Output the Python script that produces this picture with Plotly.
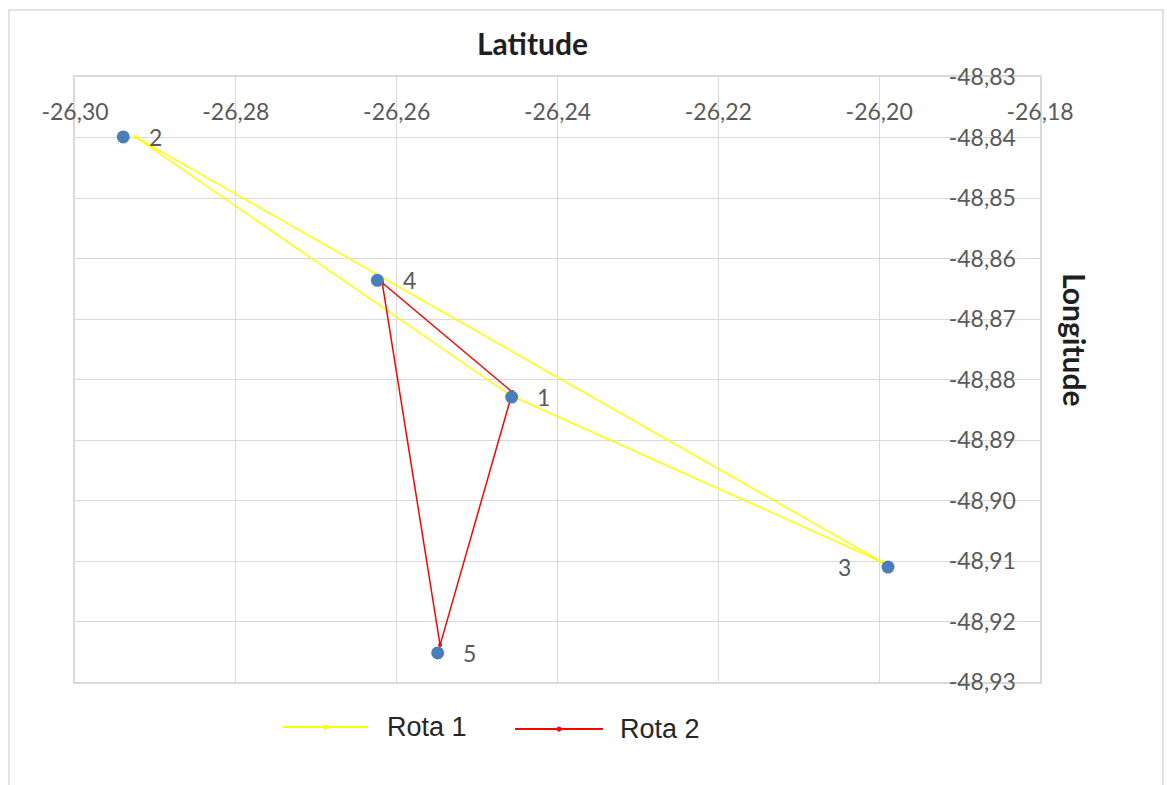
import plotly.graph_objects as go

# Customer / depot locations
point_ids = ["1", "2", "3", "4", "5"]
point_lat = [-26.2457, -26.2940, -26.1989, -26.2624, -26.2549]
point_lon = [-48.8829, -48.8399, -48.9110, -48.8636, -48.9252]

# Route 1: depot 1 -> 2 -> 3 -> back to 1
rota1_lat = [-26.2459, -26.2925, -26.1996, -26.2459]
rota1_lon = [-48.8826, -48.8399, -48.9102, -48.8826]

# Route 2: depot 1 -> 4 -> 5 -> back to 1
rota2_lat = [-26.2456, -26.2618, -26.2546, -26.2456]
rota2_lon = [-48.8821, -48.8640, -48.9239, -48.8821]

x_ticks = [-26.30, -26.28, -26.26, -26.24, -26.22, -26.20, -26.18]
x_ticktext = ["-26,30", "-26,28", "-26,26", "-26,24", "-26,22", "-26,20", "-26,18"]
y_ticks = [-48.83, -48.84, -48.85, -48.86, -48.87, -48.88, -48.89, -48.90, -48.91, -48.92, -48.93]
y_ticktext = ["-48,83", "-48,84", "-48,85", "-48,86", "-48,87", "-48,88", "-48,89",
              "-48,90", "-48,91", "-48,92", "-48,93"]

# Horizontal offset (px) of each point label
label_shift = [32, 32, -44, 32, 32]

YELLOW = "#ffff00"
RED = "#ff0000"
BLUE = "#4a7ebb"
GRID = "#d9d9d9"
TICK_FONT = dict(family="Lato, Open Sans, sans-serif", size=23, color="#595959")
TITLE_FONT = dict(family="Lato, sans-serif", size=30, color="#1f1f1f")

fig = go.Figure()

fig.add_trace(go.Scatter(
    x=rota1_lat, y=rota1_lon, mode="lines+markers", name="Rota 1",
    line=dict(color=YELLOW, width=1.5), marker=dict(color=YELLOW, size=4),
    showlegend=False, hoverinfo="x+y",
))
fig.add_trace(go.Scatter(
    x=rota2_lat, y=rota2_lon, mode="lines+markers", name="Rota 2",
    line=dict(color=RED, width=1.5), marker=dict(color=RED, size=4),
    showlegend=False, hoverinfo="x+y",
))
fig.add_trace(go.Scatter(
    x=point_lat, y=point_lon, mode="markers", name="Pontos",
    marker=dict(color=BLUE, size=13), showlegend=False,
))

annotations = []
for pid, lat, lon, dx in zip(point_ids, point_lat, point_lon, label_shift):
    annotations.append(dict(
        x=lat, y=lon, xref="x", yref="y", text=pid, showarrow=False,
        xshift=dx, font=TICK_FONT,
    ))

# Titles
annotations.append(dict(
    x=0.4746, y=1.056, xref="paper", yref="paper", text="<b>Latitude</b>",
    xanchor="center", yanchor="middle", showarrow=False, font=TITLE_FONT,
))
annotations.append(dict(
    x=1.0363, y=0.5653, xref="paper", yref="paper", text="<b>Longitude</b>",
    xanchor="center", yanchor="middle", showarrow=False, textangle=90, font=TITLE_FONT,
))

# Legend entries
legend_items = [("Rota 1", YELLOW, 0.2155, 0.3036, 0.3212, -0.0744),
                ("Rota 2", RED, 0.4560, 0.5472, 0.5627, -0.0778)]
shapes = []
for name, color, x0, x1, xt, yl in legend_items:
    shapes.append(dict(type="line", xref="paper", yref="paper", x0=x0, x1=x1, y0=yl, y1=yl,
                       line=dict(color=color, width=2)))
    xc = (x0 + x1) / 2
    shapes.append(dict(type="circle", xref="paper", yref="paper",
                       x0=xc - 0.0022, x1=xc + 0.0022, y0=yl - 0.0035, y1=yl + 0.0035,
                       fillcolor=color, line=dict(color=color, width=1)))
    annotations.append(dict(
        x=xt, y=yl, xref="paper", yref="paper", text=name, showarrow=False,
        xanchor="left", yanchor="middle",
        font=dict(family="Liberation Sans, Arial, sans-serif", size=27, color="#262626"),
    ))

# Outer chart frame
shapes.append(dict(type="rect", xref="paper", yref="paper",
                   x0=-0.0684, x1=1.1275, y0=-0.20, y1=1.1107,
                   line=dict(color=GRID, width=1.5), fillcolor="rgba(0,0,0,0)", layer="below"))

fig.update_layout(
    width=1167, height=785,
    margin=dict(l=75, r=127, t=77, b=103),
    paper_bgcolor="white", plot_bgcolor="white",
    showlegend=False,
    annotations=annotations,
    shapes=shapes,
    xaxis=dict(
        range=[-26.30, -26.18], side="top", tickvals=x_ticks, ticktext=x_ticktext,
        ticklabelposition="inside", ticklabeloverflow="allow", ticklabelstandoff=29,
        ticks="", showgrid=True, gridcolor=GRID, gridwidth=1,
        showline=True, linecolor=GRID, linewidth=1.5, mirror=True, zeroline=False,
        tickfont=TICK_FONT, fixedrange=True,
    ),
    yaxis=dict(
        range=[-48.93, -48.83], side="right", tickvals=y_ticks, ticktext=y_ticktext,
        ticklabelposition="inside", ticklabeloverflow="allow", ticklabelstandoff=26,
        ticks="", showgrid=True, gridcolor=GRID, gridwidth=1,
        showline=True, linecolor=GRID, linewidth=1.5, mirror=True, zeroline=False,
        tickfont=TICK_FONT, fixedrange=True,
    ),
)

fig.write_html("out.html")
